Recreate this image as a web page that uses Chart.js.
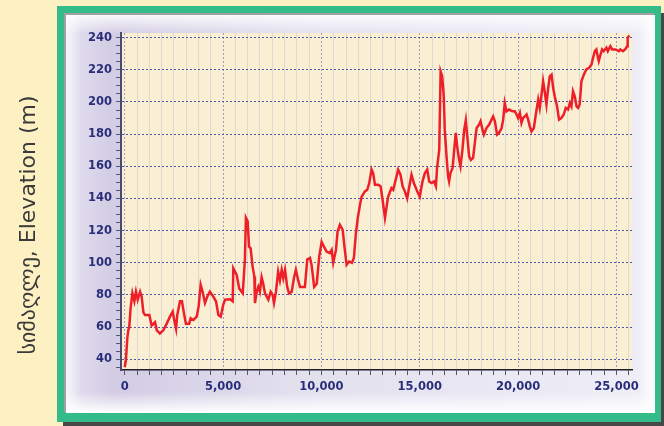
<!DOCTYPE html>
<html>
<head>
<meta charset="utf-8">
<script src="https://cdn.jsdelivr.net/npm/chart.js@4.4.0/dist/chart.umd.min.js"></script>
<style>
  html, body { margin: 0; padding: 0; background: #fdf0c2; }
  #wrap { width: 664px; height: 426px; }
</style>
</head>
<body>
<div id="wrap"><canvas id="myChart" width="664" height="426"></canvas></div>
<script>
// distance along the route (m) and elevation (m)
const distance = [
  0, 60, 130, 180, 230, 300, 390, 490, 570, 660, 780, 860, 950, 1030, 1250, 1370, 1540, 1630, 1790, 1960,
  2130, 2300, 2440, 2500, 2610, 2670, 2810, 2910, 2980, 3110, 3280, 3350, 3490, 3660, 3760, 3860, 3960, 4080, 4200, 4330,
  4500, 4640, 4760, 4880, 5010, 5100, 5350, 5490, 5520, 5690, 5820, 6000, 6110, 6160, 6250, 6320, 6400, 6500, 6590, 6620,
  6710, 6790, 6870, 6960, 7040, 7130, 7300, 7420, 7520, 7590, 7690, 7800, 7890, 7980, 8060, 8150, 8260, 8350, 8490, 8600,
  8700, 8820, 8910, 9160, 9280, 9420, 9500, 9630, 9760, 9890, 10010, 10130, 10260, 10430, 10520, 10600, 10740, 10820, 10940, 11080,
  11190, 11280, 11410, 11550, 11650, 11750, 11850, 11960, 12040, 12210, 12330, 12430, 12550, 12630, 12720, 12890, 13010, 13110, 13230, 13390,
  13560, 13650, 13820, 13900, 14020, 14130, 14240, 14360, 14500, 14580, 14700, 14870, 15000, 15140, 15260, 15380, 15480, 15600, 15720, 15820,
  15880, 15990, 16060, 16140, 16220, 16270, 16360, 16440, 16490, 16560, 16670, 16730, 16830, 16900, 17000, 17070, 17170, 17260, 17340, 17430,
  17510, 17600, 17710, 17800, 17890, 18020, 18090, 18190, 18260, 18390, 18530, 18650, 18730, 18820, 18930, 19030, 19160, 19240, 19320, 19410,
  19540, 19710, 19830, 19920, 20000, 20090, 20170, 20250, 20340, 20430, 20510, 20590, 20680, 20800, 20900, 21020, 21100, 21200, 21270, 21360,
  21440, 21520, 21610, 21700, 21780, 21860, 21980, 22080, 22200, 22320, 22420, 22540, 22630, 22710, 22790, 22880, 22970, 23050, 23130, 23220,
  23340, 23470, 23610, 23730, 23810, 23900, 23980, 24060, 24100, 24190, 24270, 24350, 24490, 24560, 24690, 24780, 24950, 25120, 25200, 25330,
  25460, 25540, 25570, 25660
];
const elevation = [
  35, 39.5, 53, 58, 60, 72, 81, 76, 82, 77, 82, 79, 69, 67.5, 67.5, 61, 63, 58, 56, 58,
  62, 66.5, 69.6, 65.5, 59, 67.5, 76, 76, 70.7, 62, 62, 65.5, 64.4, 66.5, 73, 86.3, 82, 75, 79, 82,
  79, 76, 67.5, 66.5, 74, 77, 77.3, 76, 96.6, 92.5, 84, 81, 102, 128, 125.7, 110, 109, 97.6, 91.4, 75,
  82, 85, 82, 91, 87, 81, 77, 82, 80, 75, 82, 94.5, 89, 95.6, 90.4, 95.6, 85, 81, 82, 90.4,
  95.6, 89, 85, 85, 102, 103, 98.7, 85, 87, 104, 113, 110, 107, 106, 108, 100, 108, 119.4, 123.6, 120.5,
  108, 98.7, 100.8, 100, 103, 118, 128, 136, 141, 144.4, 145.4, 149.6, 158, 155.8, 148.5, 148.5, 147.5, 139, 128, 141,
  146.5, 145.4, 153.7, 158, 154.8, 147.5, 144.4, 140, 149.6, 154.8, 149.6, 144.4, 141, 150.6, 155.8, 158, 150.6, 149.6, 150.6, 147.5,
  159, 170.3, 219, 216, 203.5, 182.8, 166.2, 153.7, 150.6, 155.8, 159, 167.2, 180.8, 172.4, 164, 160, 170.3, 182.8, 188.6, 176.6,
  166.2, 164, 165.2, 174.5, 183.8, 186, 188, 182.8, 179.7, 183.8, 186, 189, 191, 188, 179.7, 180.8, 183.8, 189, 199.4, 194.2,
  195.3, 194.2, 194.2, 192.2, 190, 193.2, 187, 190, 191, 192.2, 189, 185, 181.7, 183.8, 192.2, 201.5, 196.3, 205.7, 212.9, 205.7,
  198.4, 207.7, 216, 217, 208.8, 203.5, 197.3, 189, 190, 192.2, 196.3, 195.3, 199.4, 197.3, 206.7, 203.5, 197.3, 196.3, 198.4, 212.9,
  217, 220.2, 221.2, 223.3, 227.5, 231.6, 232.7, 227.5, 225.4, 229.5, 232.7, 231.6, 233.7, 231.6, 234.7, 232.7, 232.7, 231.6, 232.7, 231.6,
  233, 234.7, 240, 241.4
];
const yTitle = 'სიმაღლე, Elevation (m)';
const xRange = [-190, 25790];
const yRange = [33.3, 242.9];
const xMinorStep = 625, xMajorStep = 5000;
const yMinorStep = 5, yMajorStep = 20;

const points = distance.map((d, i) => ({x: d, y: elevation[i]}));

function withCommas(v) {
  return String(Math.round(v)).replace(/\B(?=(\d{3})+(?!\d))/g, ',');
}

// put the ticks on whole multiples of the step, whatever the axis min is
function stepTicks(step) {
  return function(scale) {
    const ticks = [];
    for (let v = Math.ceil(scale.min / step) * step; v <= scale.max; v += step) {
      ticks.push({value: v});
    }
    scale.ticks = ticks;
  };
}

const background = {
  id: 'background',
  beforeDraw(chart) {
    const c = chart.ctx;
    const a = chart.chartArea;
    c.save();
    c.fillStyle = '#fdf0c2';
    c.fillRect(0, 0, 664, 426);
    // drop shadow of the frame
    c.fillStyle = '#474747';
    c.fillRect(63, 13, 601, 413);
    // green frame
    c.fillStyle = '#34bb8a';
    c.fillRect(57, 6, 604, 416);
    // bevel
    c.fillStyle = '#a0a0a2';
    c.fillRect(64, 13, 590, 399);
    c.fillStyle = '#ffffff';
    c.fillRect(66, 15, 589, 398);
    // lavender panel
    let g = c.createLinearGradient(66, 0, 654, 0);
    g.addColorStop(0, '#e4e0ef');
    g.addColorStop(0.08, '#d2cce4');
    g.addColorStop(0.4, '#e3e0ee');
    g.addColorStop(1, '#efeef7');
    c.fillStyle = g;
    c.fillRect(66, 15, 587, 396);
    g = c.createLinearGradient(0, 15, 0, 34);
    g.addColorStop(0, 'rgba(255,255,255,0.85)');
    g.addColorStop(1, 'rgba(255,255,255,0)');
    c.fillStyle = g;
    c.fillRect(66, 15, 587, 19);
    g = c.createLinearGradient(0, 411, 0, 392);
    g.addColorStop(0, 'rgba(255,255,255,0.9)');
    g.addColorStop(1, 'rgba(255,255,255,0)');
    c.fillStyle = g;
    c.fillRect(66, 392, 587, 19);
    g = c.createLinearGradient(66, 0, 82, 0);
    g.addColorStop(0, 'rgba(255,255,255,0.7)');
    g.addColorStop(1, 'rgba(255,255,255,0)');
    c.fillStyle = g;
    c.fillRect(66, 15, 16, 396);
    g = c.createLinearGradient(653, 0, 638, 0);
    g.addColorStop(0, 'rgba(255,255,255,0.9)');
    g.addColorStop(1, 'rgba(255,255,255,0)');
    c.fillStyle = g;
    c.fillRect(638, 15, 15, 396);
    // plot area
    c.fillStyle = '#fbefd3';
    c.fillRect(a.left, a.top, a.right - a.left, a.bottom - a.top);
    c.restore();
  }
};

const titlePlugin = {
  id: 'yTitle',
  afterDraw(chart) {
    const c = chart.ctx;
    c.save();
    c.translate(29, 225);
    c.rotate(-Math.PI / 2);
    c.font = '22px "DejaVu Sans"';
    c.fillStyle = '#3a3a3a';
    c.textAlign = 'center';
    c.textBaseline = 'middle';
    c.fillText(yTitle, 0, 0);
    c.restore();
  }
};

const tickFont = {family: 'DejaVu Sans', size: 11.5, weight: 'bold'};

const ctx = document.getElementById('myChart');
const c = new Chart(ctx, {
  type: 'line',
  data: {
    datasets: [{
      data: points,
      borderColor: '#ee1f28',
      borderWidth: 2.5,
      pointRadius: 0,
      tension: 0,
      fill: false
    }]
  },
  options: {
    responsive: false,
    animation: false,
    devicePixelRatio: 1,
    layout: {padding: {left: 0, right: 32, top: 33, bottom: 0}},
    plugins: {legend: {display: false}, tooltip: {enabled: false}},
    scales: {
      x: {
        type: 'linear',
        min: xRange[0],
        max: xRange[1],
        afterBuildTicks: stepTicks(xMinorStep),
        afterFit(scale) { scale.height = 56; },
        ticks: {
          autoSkip: false,
          maxRotation: 0,
          minRotation: 0,
          padding: 5,
          color: '#2a2e7a',
          font: tickFont,
          callback: v => (v % xMajorStep === 0 ? withCommas(v) : '')
        },
        grid: {
          color: ctx => (ctx.tick && ctx.tick.value % xMajorStep === 0 ? '#9c9cc4' : '#dcd8d2'),
          lineWidth: 1,
          tickLength: 5,
          tickColor: '#555566'
        },
        border: {
          color: '#1e1e2a',
          width: 1.5,
          dash: ctx => (ctx.tick && ctx.tick.value % xMajorStep === 0 ? [2, 2] : [])
        }
      },
      y: {
        type: 'linear',
        min: yRange[0],
        max: yRange[1],
        afterBuildTicks: stepTicks(yMinorStep),
        afterFit(scale) { scale.width = 121; },
        ticks: {
          autoSkip: false,
          padding: 4,
          color: '#2a2e7a',
          font: tickFont,
          callback: v => (v % yMajorStep === 0 ? String(v) : '')
        },
        grid: {
          color: ctx => (ctx.tick && ctx.tick.value % yMajorStep === 0 ? '#4b5aa8' : 'rgba(0,0,0,0)'),
          lineWidth: 1,
          tickLength: 5,
          tickColor: '#555577'
        },
        border: {
          color: '#4a4a70',
          width: 2,
          dash: [2, 2]
        }
      }
    }
  },
  plugins: [background, titlePlugin]
});
</script>
</body>
</html>
